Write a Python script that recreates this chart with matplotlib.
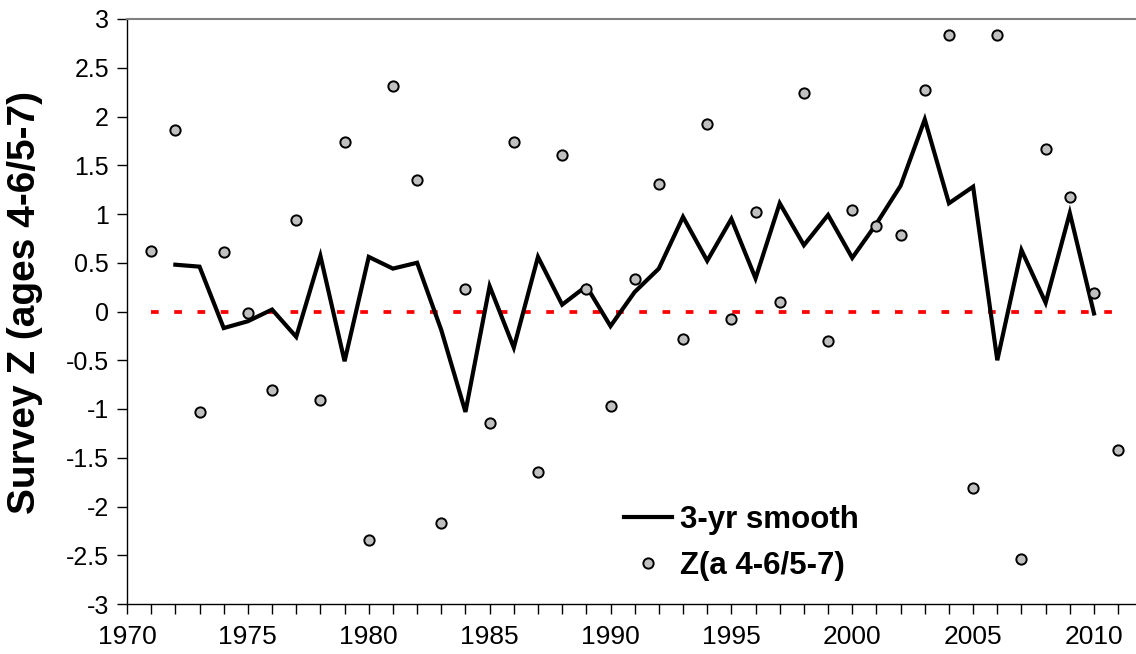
import matplotlib
matplotlib.use("Agg")
import matplotlib.pyplot as plt
from matplotlib.ticker import MultipleLocator

plt.rcParams['font.family'] = ['Liberation Sans', 'DejaVu Sans']

# ---- data ----
years_z = list(range(1971, 2012))
z_values = [0.62, 1.86, -1.03, 0.61, -0.02, -0.81, 0.94, -0.91, 1.74, -2.34,
            2.31, 1.35, -2.17, 0.23, -1.14, 1.74, -1.65, 1.61, 0.23, -0.97,
            0.33, 1.31, -0.28, 1.92, -0.08, 1.02, 0.10, 2.24, -0.30, 1.04,
            0.88, 0.78, 2.27, 2.84, -1.81, 2.84, -2.54, 1.67, 1.17, 0.19,
            -1.42]

years_smooth = list(range(1972, 2011))
smooth_values = [0.48, 0.46, -0.17, -0.10, 0.02, -0.26, 0.57, -0.51, 0.56, 0.44,
                 0.50, -0.19, -1.03, 0.26, -0.37, 0.56, 0.07, 0.26, -0.15, 0.20,
                 0.44, 0.97, 0.52, 0.95, 0.34, 1.11, 0.68, 0.99, 0.55, 0.90,
                 1.29, 1.97, 1.11, 1.28, -0.50, 0.63, 0.09, 1.01, -0.02]

zero_x = [1971, 2011]
zero_y = [0, 0]

y_ticks = [3, 2.5, 2, 1.5, 1, 0.5, 0, -0.5, -1, -1.5, -2, -2.5, -3]
y_tick_labels = ['3', '2.5', '2', '1.5', '1', '0.5', '0', '-0.5', '-1', '-1.5',
                 '-2', '-2.5', '-3']
x_ticks = [1970, 1975, 1980, 1985, 1990, 1995, 2000, 2005, 2010]

label_smooth = '3-yr smooth'
label_z = 'Z(a 4-6/5-7)'
y_label = 'Survey Z (ages 4-6/5-7)'

# ---- figure ----
W, H = 1136, 654
fig = plt.figure(figsize=(W / 100, H / 100), dpi=100)
left, right, top, bottom = 127, 1136, 19, 604
ax = fig.add_axes([left / W, 1 - bottom / H, (right - left) / W, (bottom - top) / H])

ax.plot(zero_x, zero_y, color='#ff0000', lw=2.7, dashes=(2.05, 4.15),
        dash_capstyle='butt', zorder=2)
ax.plot(years_smooth, smooth_values, color='black', lw=3.0,
        solid_joinstyle='miter', label=label_smooth, zorder=3)
ax.plot(years_z, z_values, linestyle='none', marker='o', markersize=7.4,
        markerfacecolor='#c0c0c0', markeredgecolor='black', markeredgewidth=1.4,
        label=label_z, zorder=4)

ax.set_xlim(1970, 1970 + (right - left) / 24.175)
ax.set_ylim(-3, 3)
ax.set_xticks(x_ticks)
ax.set_xticklabels([str(x) for x in x_ticks])
ax.xaxis.set_minor_locator(MultipleLocator(1))
ax.set_yticks(y_ticks)
ax.set_yticklabels(y_tick_labels)

ax.tick_params(axis='x', which='both', direction='out', length=7, width=1.0,
               labelsize=19, pad=8, colors='black')
ax.tick_params(axis='y', which='major', direction='out', length=7, width=1.0,
               labelsize=18, pad=6, colors='black')

for s in ['left', 'bottom']:
    ax.spines[s].set_color('black')
    ax.spines[s].set_linewidth(1.0)
ax.spines['top'].set_color('#808080')
ax.spines['top'].set_linewidth(1.5)
ax.spines['right'].set_visible(False)

fig.text(25 / W, 1 - 303 / H, y_label, rotation=90, ha='center', va='center',
         fontsize=28, fontweight='bold')

leg = ax.legend(loc='upper left', bbox_to_anchor=(624 / W, 1 - 505 / H),
                bbox_transform=fig.transFigure, frameon=False,
                prop={'size': 22.5, 'weight': 'bold'}, handlelength=1.55,
                handletextpad=0.25, labelspacing=0.5, borderpad=0,
                borderaxespad=0)

fig.savefig('out.png', dpi=100)
